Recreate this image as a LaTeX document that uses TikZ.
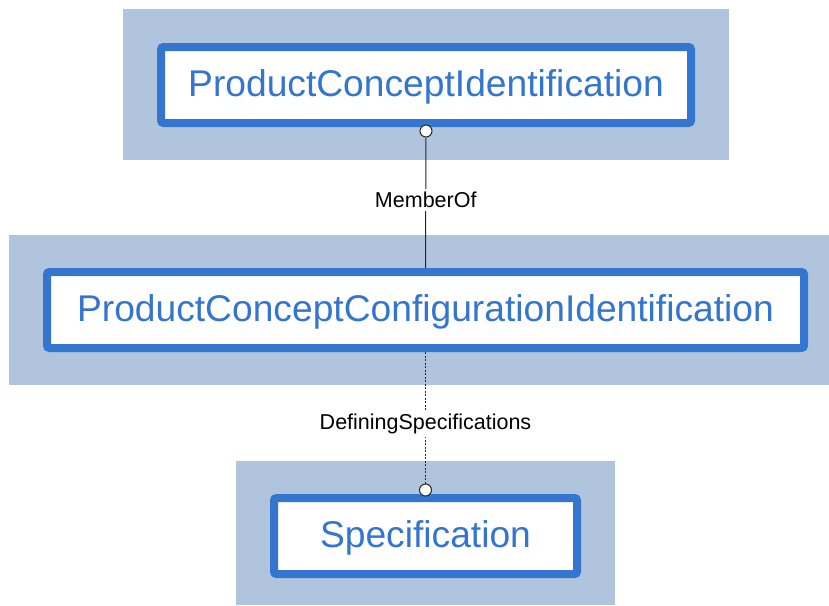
\documentclass[tikz,border=0pt]{standalone}
\usepackage{fontspec}
\setmainfont{Liberation Sans}
\definecolor{bgblue}{RGB}{176,196,222}
\definecolor{boxblue}{RGB}{52,117,208}
\begin{document}
\begin{tikzpicture}[x=1pt,y=-1pt,
  bg/.style={fill=bgblue, draw=none, inner sep=0pt},
  entity/.style={draw=boxblue, line width=8pt, fill=white, rounded corners=2.5pt,
    inner sep=0pt, minimum height=76pt, text height=30pt, text depth=8pt,
    text=boxblue, font=\fontsize{37.2}{44}\selectfont},
  endcirc/.style={circle, draw=black!85, fill=white, line width=1pt, minimum size=12pt, inner sep=0pt},
  conn/.style={draw=black!85, line width=1pt},
  lbl/.style={fill=white, inner sep=3pt, font=\fontsize{21.5}{25}\selectfont, text=black}]
\useasboundingbox (0,0) rectangle (829,605);
% backgrounds
\node[bg, minimum width=606pt, minimum height=151pt] (bgtop) at (426,84.5) {};
\node[bg, minimum width=820pt, minimum height=150pt] (bgmid) at (419,310) {};
\node[bg, minimum width=379pt, minimum height=144pt] (bgbot) at (425.5,533) {};
% entities
\node[entity, minimum width=530pt] (top) at (426,85) {ProductConceptIdentification};
\node[entity, minimum width=757pt] (mid) at (425.5,310) {ProductConceptConfigurationIdentification};
\node[entity, minimum width=303pt] (bot) at (425.5,536) {Specification};
% connectors
\node[endcirc] (c1) at ([yshift=-4pt]top.south) {};
\draw[conn] (c1) -- node[lbl, pos=0.48] (l1) {MemberOf} (mid.north);
\node[endcirc] (c2) at ([yshift=4pt]bot.north) {};
\draw[conn, dash pattern=on 2pt off 1.5pt] (mid.south) -- node[lbl, pos=0.55] (l2) {DefiningSpecifications} (c2);
\end{tikzpicture}
\end{document}
